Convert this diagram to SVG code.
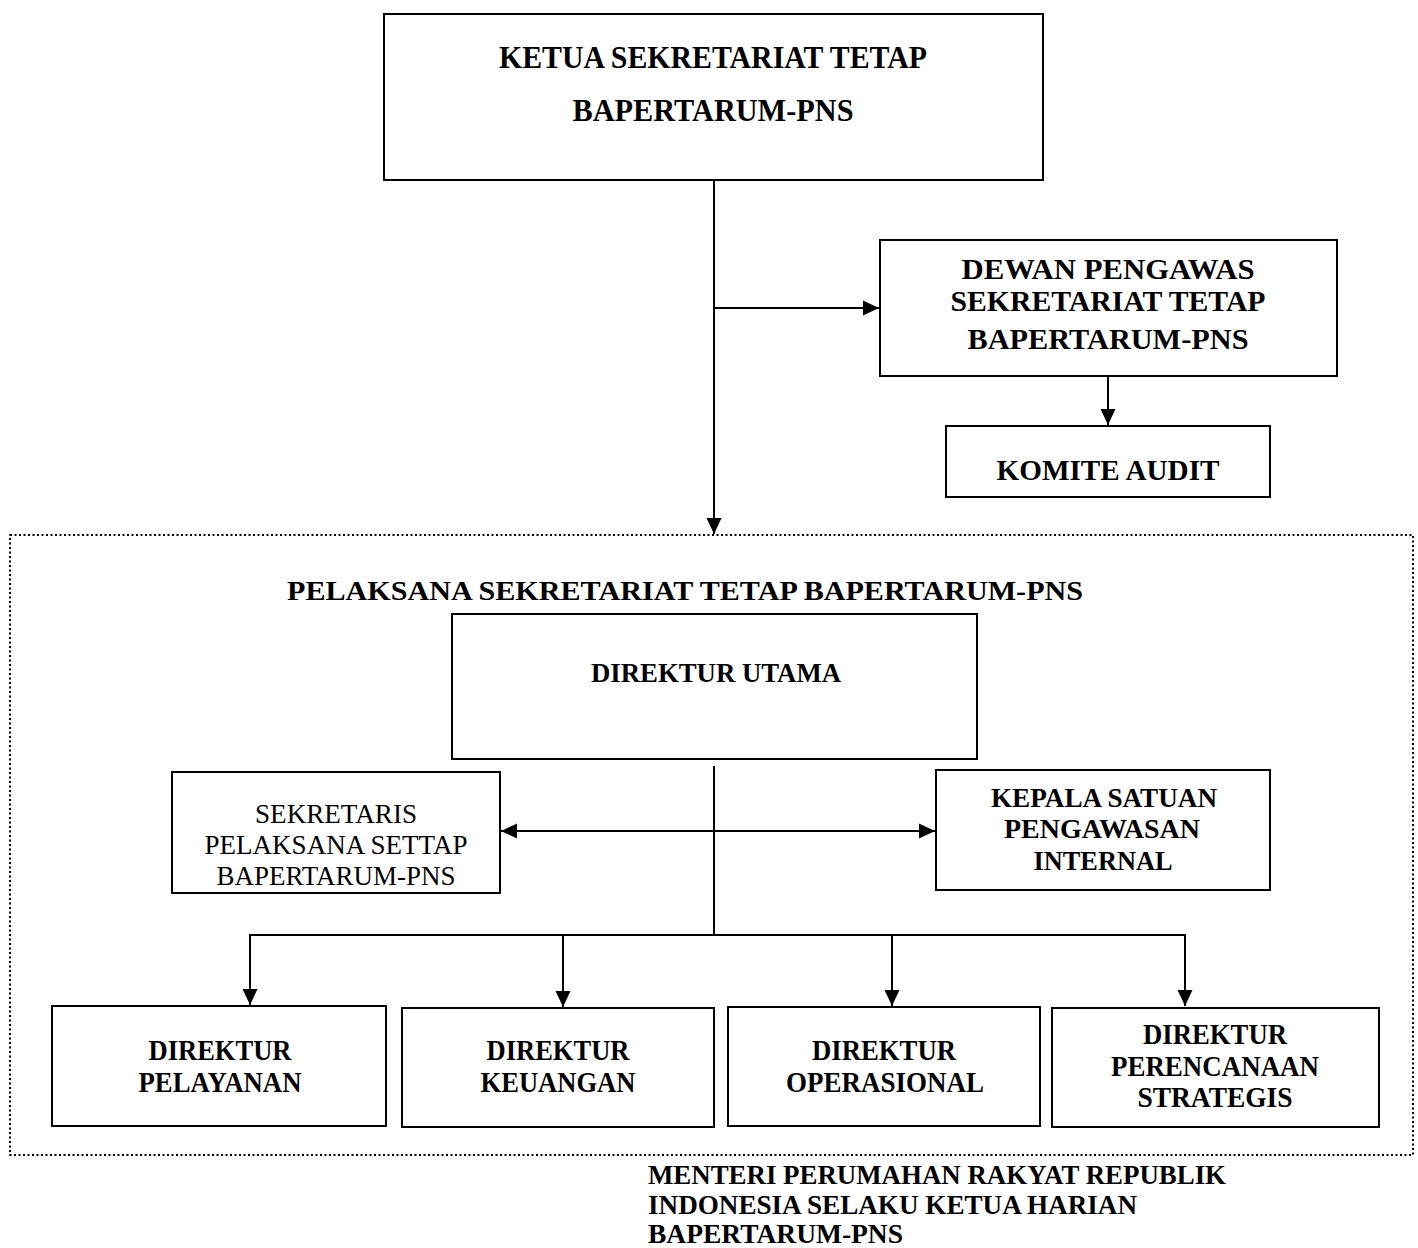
<svg xmlns="http://www.w3.org/2000/svg" width="1418" height="1248" viewBox="0 0 1418 1248">
<style>
.box{fill:#fff;stroke:#000;stroke-width:2}
.ln{fill:none;stroke:#000;stroke-width:2}
text{font-family:"Liberation Serif","Times New Roman",serif;fill:#000;text-anchor:middle}
.b{font-weight:bold}
.l{text-anchor:start}
</style>
<defs>
<marker id="ah" markerUnits="userSpaceOnUse" markerWidth="18" markerHeight="18" viewBox="0 0 18 18" refX="16" refY="9" orient="auto-start-reverse">
<path d="M0,1.5 L16,9 L0,16.5 Z" fill="#000"/>
</marker>
</defs>
<rect x="10" y="535" width="1403" height="620" fill="none" stroke="#000" stroke-width="2" stroke-dasharray="2 2.5"/>
<g id="connectors">
<line class="ln" x1="714" y1="180" x2="714" y2="534" marker-end="url(#ah)"/>
<line class="ln" x1="714" y1="308" x2="879" y2="308" marker-end="url(#ah)"/>
<line class="ln" x1="1108" y1="376" x2="1108" y2="425" marker-end="url(#ah)"/>
<line class="ln" x1="714" y1="766" x2="714" y2="935"/>
<line class="ln" x1="501" y1="831" x2="935" y2="831" marker-start="url(#ah)" marker-end="url(#ah)"/>
<polyline class="ln" points="250,1005 250,935 1185,935 1185,1006" marker-start="url(#ah)" marker-end="url(#ah)"/>
<line class="ln" x1="563" y1="935" x2="563" y2="1007" marker-end="url(#ah)"/>
<line class="ln" x1="892" y1="935" x2="892" y2="1006" marker-end="url(#ah)"/>
</g>
<g id="ketua">
<rect class="box" x="384" y="14" width="659" height="166"/>
<text class="b" x="713" y="68" font-size="31" textLength="428" lengthAdjust="spacingAndGlyphs">KETUA SEKRETARIAT TETAP</text>
<text class="b" x="713" y="121" font-size="31" textLength="281" lengthAdjust="spacingAndGlyphs">BAPERTARUM-PNS</text>
</g>
<g id="dewan">
<rect class="box" x="880" y="240" width="457" height="136"/>
<text class="b" x="1108" y="279" font-size="29" textLength="293" lengthAdjust="spacingAndGlyphs">DEWAN PENGAWAS</text>
<text class="b" x="1108" y="311" font-size="29" textLength="315" lengthAdjust="spacingAndGlyphs">SEKRETARIAT TETAP</text>
<text class="b" x="1108" y="349" font-size="29" textLength="281" lengthAdjust="spacingAndGlyphs">BAPERTARUM-PNS</text>
</g>
<g id="komite">
<rect class="box" x="946" y="426" width="324" height="71"/>
<text class="b" x="1108" y="480" font-size="29" textLength="223" lengthAdjust="spacingAndGlyphs">KOMITE AUDIT</text>
</g>
<g id="pelaksana">
<text class="b" x="685" y="600" font-size="28" textLength="796" lengthAdjust="spacingAndGlyphs">PELAKSANA SEKRETARIAT TETAP BAPERTARUM-PNS</text>
</g>
<g id="direktur-utama">
<rect class="box" x="452" y="614" width="525" height="145"/>
<text class="b" x="716" y="682" font-size="28" textLength="250" lengthAdjust="spacingAndGlyphs">DIREKTUR UTAMA</text>
</g>
<g id="sekretaris">
<rect class="box" x="172" y="772" width="328" height="121"/>
<text x="336" y="823" font-size="27" textLength="162" lengthAdjust="spacingAndGlyphs">SEKRETARIS</text>
<text x="336" y="854" font-size="27" textLength="263" lengthAdjust="spacingAndGlyphs">PELAKSANA SETTAP</text>
<text x="336" y="885" font-size="27" textLength="239" lengthAdjust="spacingAndGlyphs">BAPERTARUM-PNS</text>
</g>
<g id="kepala-spi">
<rect class="box" x="936" y="770" width="334" height="120"/>
<text class="b" x="1104" y="807" font-size="28" textLength="226" lengthAdjust="spacingAndGlyphs">KEPALA SATUAN</text>
<text class="b" x="1102" y="838" font-size="28" textLength="196" lengthAdjust="spacingAndGlyphs">PENGAWASAN</text>
<text class="b" x="1103" y="870" font-size="28" textLength="139" lengthAdjust="spacingAndGlyphs">INTERNAL</text>
</g>
<g id="dir-pelayanan">
<rect class="box" x="52" y="1006" width="334" height="120"/>
<text class="b" x="220" y="1060" font-size="29" textLength="143" lengthAdjust="spacingAndGlyphs">DIREKTUR</text>
<text class="b" x="220" y="1092" font-size="29" textLength="163" lengthAdjust="spacingAndGlyphs">PELAYANAN</text>
</g>
<g id="dir-keuangan">
<rect class="box" x="402" y="1008" width="312" height="119"/>
<text class="b" x="558" y="1060" font-size="29" textLength="143" lengthAdjust="spacingAndGlyphs">DIREKTUR</text>
<text class="b" x="558" y="1092" font-size="29" textLength="155" lengthAdjust="spacingAndGlyphs">KEUANGAN</text>
</g>
<g id="dir-operasional">
<rect class="box" x="728" y="1007" width="312" height="119"/>
<text class="b" x="884" y="1060" font-size="29" textLength="144" lengthAdjust="spacingAndGlyphs">DIREKTUR</text>
<text class="b" x="885" y="1092" font-size="29" textLength="198" lengthAdjust="spacingAndGlyphs">OPERASIONAL</text>
</g>
<g id="dir-perencanaan">
<rect class="box" x="1052" y="1008" width="327" height="119"/>
<text class="b" x="1215" y="1044" font-size="29" textLength="144" lengthAdjust="spacingAndGlyphs">DIREKTUR</text>
<text class="b" x="1215" y="1076" font-size="29" textLength="208" lengthAdjust="spacingAndGlyphs">PERENCANAAN</text>
<text class="b" x="1215" y="1107" font-size="29" textLength="155" lengthAdjust="spacingAndGlyphs">STRATEGIS</text>
</g>
<g id="menteri">
<text class="b l" x="648" y="1184" font-size="28" textLength="578" lengthAdjust="spacingAndGlyphs">MENTERI PERUMAHAN RAKYAT REPUBLIK</text>
<text class="b l" x="648" y="1214" font-size="28" textLength="489" lengthAdjust="spacingAndGlyphs">INDONESIA SELAKU KETUA HARIAN</text>
<text class="b l" x="648" y="1243" font-size="28" textLength="255" lengthAdjust="spacingAndGlyphs">BAPERTARUM-PNS</text>
</g>
</svg>
